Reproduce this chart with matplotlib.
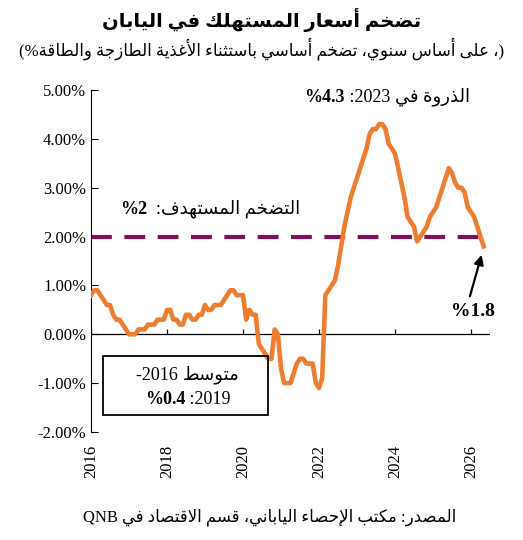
import matplotlib
matplotlib.use("Agg")
import matplotlib.pyplot as plt
from matplotlib.patches import Rectangle
import numpy as np

# ---------- data ----------
cpi_2016 = [0.8,0.9,0.9,0.8,0.7,0.6,0.6,0.4,0.3,0.3,0.2,0.1]
cpi_2017 = [0.0,0.0,0.0,0.1,0.1,0.1,0.2,0.2,0.2,0.3,0.3,0.3]
cpi_2018 = [0.5,0.5,0.3,0.3,0.2,0.2,0.4,0.4,0.3,0.3,0.4,0.4]
cpi_2019 = [0.6,0.5,0.5,0.6,0.6,0.6,0.7,0.8,0.9,0.9,0.8,0.8]
cpi_2020 = [0.8,0.3,0.5,0.4,0.4,-0.2,-0.3,-0.4,-0.5,-0.5,0.1,0.0]
cpi_2021 = [-0.7,-1.0,-1.0,-1.0,-0.8,-0.6,-0.5,-0.5,-0.6,-0.6,-0.6,-1.0]
cpi_2022 = [-1.1,-0.9,0.8,0.9,1.0,1.1,1.4,1.8,2.2,2.5,2.8,3.0]
cpi_2023 = [3.2,3.4,3.6,3.8,4.1,4.2,4.2,4.3,4.3,4.2,3.9,3.8]
cpi_2024 = [3.7,3.4,3.1,2.8,2.4,2.3,2.2,1.9,2.0,2.1,2.2,2.4]
cpi_2025 = [2.5,2.6,2.8,3.0,3.2,3.4,3.3,3.1,3.0,3.0,2.9,2.6]
cpi_2026 = [2.5,2.4,2.2,2.0,1.8]
cpi = (cpi_2016+cpi_2017+cpi_2018+cpi_2019+cpi_2020+cpi_2021+cpi_2022+
       cpi_2023+cpi_2024+cpi_2025+cpi_2026)
start_year = 2016
target = 2.0
year_ticks = [2016, 2018, 2020, 2022, 2024, 2026]
y_ticks = [-2, -1, 0, 1, 2, 3, 4, 5]

# ---------- simple Arabic shaping ----------
FORMS = {
 'ء':(0xFE80,None),'آ':(0xFE81,False),'أ':(0xFE83,False),'ؤ':(0xFE85,False),
 'إ':(0xFE87,False),'ئ':(0xFE89,True),'ا':(0xFE8D,False),'ب':(0xFE8F,True),
 'ة':(0xFE93,False),'ت':(0xFE95,True),'ث':(0xFE99,True),'ج':(0xFE9D,True),
 'ح':(0xFEA1,True),'خ':(0xFEA5,True),'د':(0xFEA9,False),'ذ':(0xFEAB,False),
 'ر':(0xFEAD,False),'ز':(0xFEAF,False),'س':(0xFEB1,True),'ش':(0xFEB5,True),
 'ص':(0xFEB9,True),'ض':(0xFEBD,True),'ط':(0xFEC1,True),'ظ':(0xFEC5,True),
 'ع':(0xFEC9,True),'غ':(0xFECD,True),'ف':(0xFED1,True),'ق':(0xFED5,True),
 'ك':(0xFED9,True),'ل':(0xFEDD,True),'م':(0xFEE1,True),'ن':(0xFEE5,True),
 'ه':(0xFEE9,True),'و':(0xFEED,False),'ى':(0xFEEF,False),'ي':(0xFEF1,True),
}
LAM_ALEF = {'ا':0xFEFB,'أ':0xFEF7,'إ':0xFEF9,'آ':0xFEF5}

def ar(s):
    chars = []
    i = 0
    while i < len(s):
        if s[i] == 'ل' and i+1 < len(s) and s[i+1] in LAM_ALEF:
            chars.append(('LA', s[i+1])); i += 2
        else:
            chars.append(s[i]); i += 1
    def joins_left(c):
        if c == 'ـ': return True
        if isinstance(c, tuple): return False
        return c in FORMS and FORMS[c][1] is True
    def joins_right(c):
        if c == 'ـ': return True
        if isinstance(c, tuple): return True
        return c in FORMS and FORMS[c][1] is not None
    out = []
    for k, c in enumerate(chars):
        prev = chars[k-1] if k > 0 else None
        nxt = chars[k+1] if k+1 < len(chars) else None
        pj = prev is not None and joins_left(prev) and joins_right(c)
        nj = nxt is not None and joins_left(c) and joins_right(nxt)
        if isinstance(c, tuple):
            out.append(chr(LAM_ALEF[c[1]] + (1 if pj else 0)))
        elif c in FORMS:
            base, dual = FORMS[c]
            if dual is None:
                out.append(chr(base))
            elif dual:
                off = 3 if (pj and nj) else 2 if nj else 1 if pj else 0
                out.append(chr(base + off))
            else:
                out.append(chr(base + (1 if pj else 0)))
        else:
            out.append(c)
    return ''.join(out[::-1])

FAM = ['Liberation Serif', 'DejaVu Sans']
plt.rcParams['font.family'] = FAM

fig = plt.figure(figsize=(5.23, 5.40), dpi=100)
W, H = 523, 540
ax = fig.add_axes([91/W, 1-432/H, 399/W, 342/H])

x = start_year + np.arange(len(cpi))/12.0
ax.plot(x, cpi, color='#ED7D31', lw=3.3, solid_joinstyle='round', zorder=3)
ax.axhline(target, color='#7E1259', lw=3, dashes=(5, 3), zorder=2)
ax.axhline(0, color='black', lw=0.9, zorder=1)
ax.vlines(year_ticks, 0, 0.1, color='black', lw=0.9)

ax.set_xlim(2016, 2026.5)
ax.set_ylim(-2, 5)
ax.set_yticks(y_ticks)
ax.set_yticklabels([f"{v:.2f}%" for v in y_ticks], fontsize=12)
ax.set_xticks(year_ticks)
ax.set_xticklabels([str(v) for v in year_ticks], rotation=90, fontsize=12)
ax.tick_params(axis='x', length=0, pad=9)
ax.tick_params(axis='y', direction='in', length=5)
for s in ['top', 'right', 'bottom']:
    ax.spines[s].set_visible(False)

ax.add_patch(Rectangle((0.03, 0.05), 0.414, 0.172, transform=ax.transAxes,
                       fill=False, ec='black', lw=1.3, zorder=4))

ax.annotate('', xy=(2026.3, 1.68), xytext=(2025.95, 0.72),
            arrowprops=dict(arrowstyle='-|>', color='black', lw=1.6, mutation_scale=14))

renderer = fig.canvas.get_renderer()

def row(pieces, xc, yc, size):
    texts = []
    for t, w in pieces:
        tt = fig.text(0, 0, t, fontsize=size, fontweight=w, family=FAM,
                      va='center', ha='left')
        texts.append(tt)
    widths = [tt.get_window_extent(renderer).width for tt in texts]
    x0 = xc - sum(widths)/2
    for tt, wd in zip(texts, widths):
        tt.set_position((x0/W, 1 - yc/H))
        x0 += wd

row([(ar("تضخم أسعار المستهلك في اليابان"), 'bold')], 262, 20, 14)
row([("(%" + ar("، على أساس سنوي، تضخم أساسي باستثناء الأغذية الطازجة والطاقة") + ")", 'normal')],
    262, 49, 12)
row([("%4.3", 'bold'), (" :2023 ", 'normal'), (ar("الذروة في"), 'normal')], 387, 97, 13)
row([("%2", 'bold'), ("  ", 'normal'), (ar("التضخم المستهدف:"), 'normal')], 210, 209, 13)
row([("-2016 ", 'normal'), (ar("متوسط"), 'normal')], 188, 375, 13)
row([("%0.4", 'bold'), (" :2019", 'normal')], 188, 400, 13)
row([("%1.8", 'bold')], 473, 312, 14)
row([("QNB ", 'normal'), (ar("المصدر: مكتب الإحصاء الياباني، قسم الاقتصاد في"), 'normal')],
    270, 517, 12)

fig.savefig('out.png', dpi=100)
